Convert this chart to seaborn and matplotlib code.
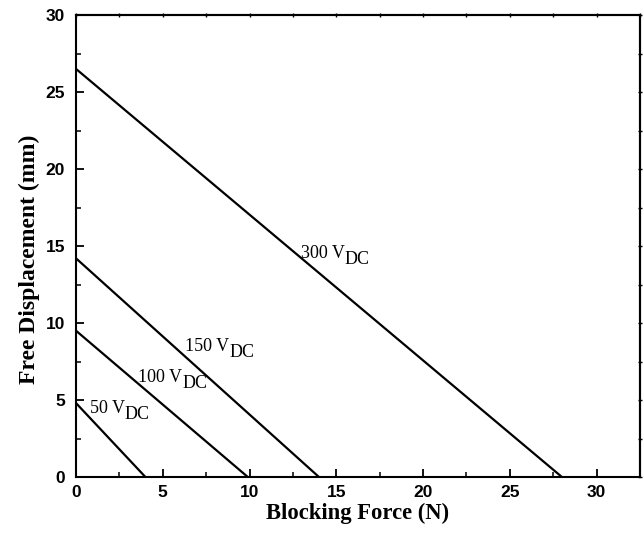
import matplotlib
matplotlib.use("Agg")
import matplotlib.pyplot as plt
from matplotlib.ticker import MultipleLocator
from matplotlib.transforms import offset_copy
import pandas as pd
import seaborn as sns

# Load lines: free displacement at zero force, blocking force at zero displacement
voltages = ["50", "100", "150", "300"]
free_displacement = [4.8, 9.5, 14.2, 26.5]   # mm
blocking_force = [4.0, 9.9, 14.0, 28.0]      # N

# Label anchor points (left, baseline) for each voltage
label_x = [0.8, 3.6, 6.3, 12.95]
label_y = [4.15, 6.2, 8.2, 14.2]

rows = []
for v, d0, f0 in zip(voltages, free_displacement, blocking_force):
    rows.append({"voltage": v, "force": 0.0, "disp": d0})
    rows.append({"voltage": v, "force": f0, "disp": 0.0})
df = pd.DataFrame(rows)

sns.set_style("ticks")
plt.rcParams["text.color"] = "black"
plt.rcParams["xtick.color"] = "black"
plt.rcParams["ytick.color"] = "black"
plt.rcParams["axes.labelcolor"] = "black"

fig = plt.figure(figsize=(6.44, 5.37), dpi=100)
ax = fig.add_axes([76 / 644, 60 / 537, 564 / 644, 462 / 537])

sns.lineplot(data=df, x="force", y="disp", hue="voltage",
             palette=["black"] * 4, linewidth=1.6, legend=False,
             ax=ax, sort=False)

ax.set_xlim(0, 32.5)
ax.set_ylim(0, 30)

# Voltage labels with a full-size, lowered "DC" subscript
renderer = fig.canvas.get_renderer()
for v, lx, ly in zip(voltages, label_x, label_y):
    main = ax.text(lx, ly, v + " V", fontsize=13, family="Liberation Serif",
                   ha="left", va="baseline", color="black")
    bb = main.get_window_extent(renderer=renderer)
    sub_tr = offset_copy(ax.transData, fig=fig, x=bb.width, y=-6, units="dots")
    ax.text(lx, ly, "DC", fontsize=13, family="Liberation Serif",
            ha="left", va="baseline", color="black", transform=sub_tr)

ax.xaxis.set_major_locator(MultipleLocator(5))
ax.xaxis.set_minor_locator(MultipleLocator(2.5))
ax.yaxis.set_major_locator(MultipleLocator(5))
ax.yaxis.set_minor_locator(MultipleLocator(2.5))

for s in ax.spines.values():
    s.set_visible(True)
    s.set_linewidth(1.5)
    s.set_color("black")

ax.tick_params(which="major", direction="in", length=6, width=1.3,
               bottom=True, left=True, top=False, right=False)
ax.tick_params(which="minor", direction="in", length=3.5, width=1.1,
               bottom=True, left=True, top=False, right=False)

# Small marks on the top and right frame
top = ax.secondary_xaxis("top")
right = ax.secondary_yaxis("right")
for sec, axis in ((top, top.xaxis), (right, right.yaxis)):
    axis.set_major_locator(MultipleLocator(2.5))
    sec.tick_params(which="major", direction="inout", length=2.5, width=1.0,
                    labeltop=False, labelright=False, labelbottom=False,
                    labelleft=False)
    for s in sec.spines.values():
        s.set_linewidth(1.5)

for lab in ax.get_xticklabels() + ax.get_yticklabels():
    lab.set_fontfamily("Liberation Sans")
    lab.set_fontweight("bold")
    lab.set_fontsize(12.5)
ax.tick_params(axis="x", pad=6)
ax.tick_params(axis="y", pad=8)

ax.set_xlabel("Blocking Force (N)", fontsize=16.3, fontweight="bold",
              family="Liberation Serif", labelpad=2)
ax.set_ylabel("Free Displacement (mm)", fontsize=17, fontweight="bold",
              family="Liberation Serif")
ax.yaxis.set_label_coords(-0.064, 0.472)

fig.savefig("out.png", dpi=100)
